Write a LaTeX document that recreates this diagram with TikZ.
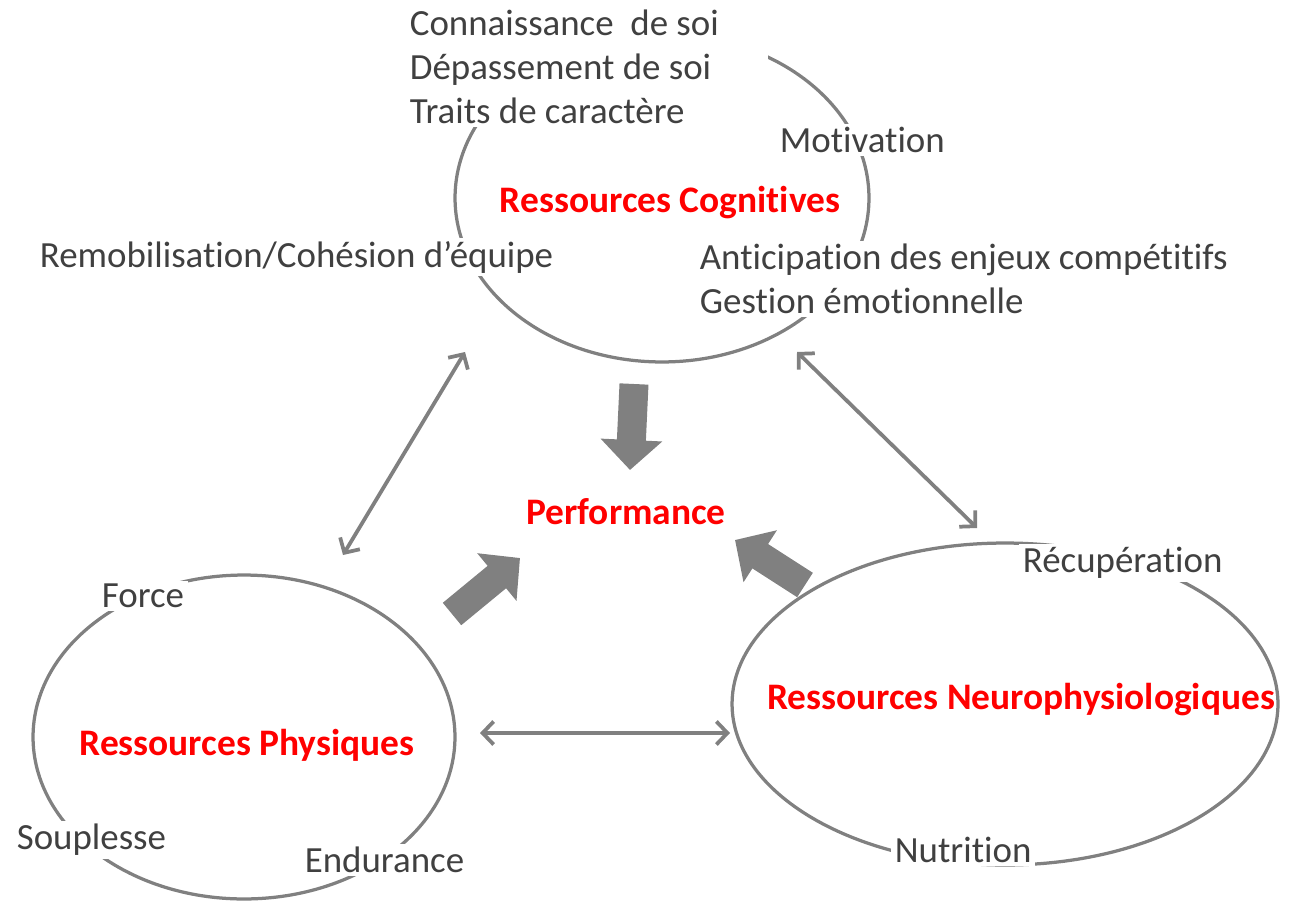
\documentclass[tikz,border=0pt]{standalone}
\usepackage{fontspec}
\setmainfont[Ligatures=NoCommon]{Carlito}
\usetikzlibrary{arrows.meta, positioning, shapes.geometric}
\definecolor{txtgray}{HTML}{404040}
\definecolor{linegray}{HTML}{808080}
\definecolor{resred}{HTML}{FF0000}

\begin{document}
\begin{tikzpicture}[x=0.02cm, y=-0.02cm,
    ring/.style={draw=linegray, line width=0.065cm, ellipse, inner sep=0pt},
    item/.style={anchor=west, fill=white, inner sep=2pt, text=txtgray, align=flush left, font=\fontsize{21}{25}\selectfont},
    title/.style={text=resred, font=\fontsize{21.3}{25}\selectfont\bfseries},
    link/.style={draw=linegray, line width=0.075cm, {Straight Barb[length=0.22cm, width=0.46cm]}-{Straight Barb[length=0.22cm, width=0.46cm]}},
    push/.style={linegray, line width=0.58cm, -{Triangle[length=0.6cm, width=1.2cm]}},
    ]
    \useasboundingbox (0,0) rectangle (1293,902);

    % the three resource rings
    \node[ring, minimum width=8.28cm, minimum height=6.56cm] (cogn) at (662,198) {};
    \node[ring, minimum width=8.44cm, minimum height=6.48cm] (phys) at (244,737) {};
    \node[ring, minimum width=10.92cm, minimum height=6.44cm] (neuro) at (1005,704) {};

    % titles
    \node[title] (cognt) at (670,203) {Ressources Cognitives};
    \node[title] (physt) at (247,745) {Ressources Physiques};
    \node[title] (neurot) at (1021,700) {Ressources Neurophysiologiques};
    \node[title] (perf) at (626,512) {Performance};

    % items round the cognitive ring
    \node[item, text width=7.1cm] (self) at (406,67) {Connaissance~ de soi\\Dépassement de soi\\Traits de caractère};
    \node[item] (motiv) at (776,140) {Motivation};
    \node[item] (remob) at (36,257) {Remobilisation/Cohésion d’équipe};
    \node[item] (antic) at (696,279) {Anticipation des enjeux compétitifs\\Gestion émotionnelle};

    % items round the physical ring
    \node[item] (force) at (98,596) {Force};
    \node[item] (soupl) at (13,840) {Souplesse};
    \node[item] (endur) at (301,860) {Endurance};

    % items round the neurophysiological ring
    \node[item] (recup) at (1019,563) {Récupération};
    \node[item] (nutri) at (891,850) {Nutrition};

    % ends of the links
    \coordinate (cp) at (465,352);
    \coordinate (pc) at (343,555);
    \coordinate (cn) at (797,352);
    \coordinate (nc) at (977,528);
    \coordinate (pn) at (480,733);
    \coordinate (np) at (730,733);

    % two-way links
    \draw[link] (cp) -- (pc);
    \draw[link] (cn) -- (nc);
    \draw[link] (pn) -- (np);

    % block arrows to performance
    \coordinate (c0) at (634,384);
    \coordinate (c1) at (630,470);
    \coordinate (p0) at (452,614);
    \coordinate (p1) at (520,558);
    \coordinate (n0) at (805,585);
    \coordinate (n1) at (735,540);
    \draw[push] (c0) -- (c1);
    \draw[push] (p0) -- (p1);
    \draw[push] (n0) -- (n1);
\end{tikzpicture}
\end{document}
